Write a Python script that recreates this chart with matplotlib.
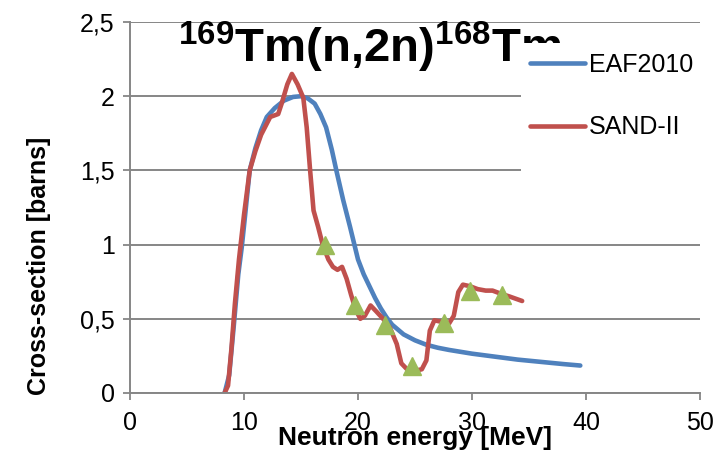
import matplotlib
matplotlib.use("Agg")
import matplotlib.pyplot as plt
from matplotlib.patches import Rectangle

plt.rcParams['font.family'] = ['Liberation Sans', 'DejaVu Sans']
plt.rcParams['mathtext.fontset'] = 'custom'
plt.rcParams['mathtext.rm'] = 'Liberation Sans'
plt.rcParams['mathtext.bf'] = 'Liberation Sans:bold'

# EAF2010 evaluated cross-section
eaf_e = [8.3, 8.7, 9.1, 9.5, 9.8, 10.1, 10.5, 11.0, 11.5, 12.0, 12.7, 13.5, 14.3,
         15.0, 15.6, 16.2, 16.7, 17.2, 17.7, 18.1, 18.7, 19.3, 20.0, 20.5, 21.0,
         21.5, 22.0, 22.5, 23.0, 24.0, 25.0, 26.0, 27.0, 28.0, 30.0, 32.0, 34.0,
         36.0, 38.0, 39.5]
eaf_xs = [0.0, 0.12, 0.45, 0.8, 0.98, 1.2, 1.5, 1.65, 1.77, 1.86, 1.92, 1.97, 1.995,
          2.0, 1.985, 1.95, 1.88, 1.79, 1.64, 1.5, 1.3, 1.12, 0.9, 0.8, 0.72,
          0.64, 0.57, 0.51, 0.46, 0.395, 0.355, 0.325, 0.305, 0.29, 0.265, 0.245, 0.225,
          0.21, 0.195, 0.185]

# SAND-II adjusted cross-section
sand_e = [8.3, 8.6, 8.9, 9.2, 9.56, 10.0, 10.5, 11.0, 11.5, 12.3, 13.0, 13.3, 13.8,
          14.2, 14.7, 15.2, 15.5, 15.8, 16.1, 16.5, 16.9, 17.4, 17.8, 18.2, 18.6,
          19.0, 19.4, 19.8, 20.2, 20.6, 21.1, 21.6, 22.2, 22.8, 23.4, 23.8, 24.3,
          25.0, 25.6, 26.0, 26.3, 26.7, 27.3, 28.0, 28.4, 28.8, 29.2, 29.8, 30.5,
          31.2, 31.8, 32.5, 33.3, 34.4]
sand_xs = [0.0, 0.05, 0.3, 0.6, 0.9, 1.2, 1.5, 1.63, 1.74, 1.86, 1.88, 1.95, 2.08,
           2.15, 2.08, 1.99, 1.79, 1.5, 1.23, 1.12, 1.0, 0.9, 0.85, 0.83, 0.85,
           0.77, 0.66, 0.56, 0.5, 0.52, 0.59, 0.55, 0.5, 0.44, 0.33, 0.2, 0.16,
           0.15, 0.16, 0.22, 0.42, 0.49, 0.48, 0.47, 0.52, 0.68, 0.73, 0.72, 0.7,
           0.69, 0.69, 0.67, 0.65, 0.62]

# data points (triangles)
pts_e = [17.1, 19.7, 22.4, 24.7, 27.5, 29.8, 32.6]
pts_xs = [1.0, 0.59, 0.46, 0.18, 0.47, 0.69, 0.66]

xticks = [0, 10, 20, 30, 40, 50]
yticks = [0, 0.5, 1, 1.5, 2, 2.5]
ytick_labels = ["0", "0,5", "1", "1,5", "2", "2,5"]

gray = '#868686'
fig = plt.figure(figsize=(7.16, 4.55), dpi=100)
ax = fig.add_axes([130 / 716, 1 - 393 / 455, 570 / 716, 371 / 455])

ax.plot(eaf_e, eaf_xs, color='#4F81BD', lw=3.3, label='EAF2010', zorder=2,
        solid_capstyle='round', solid_joinstyle='round')
ax.plot(sand_e, sand_xs, color='#C0504D', lw=3.3, label='SAND-II', zorder=2.5,
        solid_capstyle='round', solid_joinstyle='round')
ax.plot(pts_e, pts_xs, linestyle='none', marker='^', ms=13, color='#9BBB59',
        zorder=3)

ax.set_xlim(0, 50)
ax.set_ylim(0, 2.5)
ax.set_xticks(xticks)
ax.set_yticks(yticks)
ax.set_yticklabels(ytick_labels)
ax.tick_params(axis='both', labelsize=18, color=gray, width=1.3, length=5,
               direction='out')
ax.tick_params(axis='y', pad=6)
ax.tick_params(axis='x', pad=8)
ax.grid(axis='y', color=gray, lw=1.4)
ax.set_axisbelow(True)
for s in ['top', 'right']:
    ax.spines[s].set_visible(False)
for s in ['left', 'bottom']:
    ax.spines[s].set_color(gray)
    ax.spines[s].set_linewidth(1.4)

ax.set_xlabel('Neutron energy [MeV]', fontsize=19, fontweight='bold')
ax.xaxis.set_label_coords(0.5, -0.09)
ax.set_ylabel('Cross-section [barns]', fontsize=18, fontweight='bold', va='center')
ax.yaxis.set_label_coords(-0.159, 0.342)

ax.text(0.42, 0.89, r'$^{\mathbf{169}}\mathbf{Tm(n{,}2n)}^{\mathbf{168}}\mathbf{Tm}$',
        transform=ax.transAxes, fontsize=34, ha='center', va='baseline', zorder=4)

# white legend area
ax.add_patch(Rectangle((0.686, 0.585), 0.35, 0.358, transform=ax.transAxes,
                       facecolor='white', edgecolor='none', zorder=5, clip_on=False))
leg = ax.legend(loc='center left', bbox_to_anchor=(0.702, 0.8005), frameon=False,
                fontsize=18, handlelength=2.2, handletextpad=0.15, labelspacing=1.55,
                borderpad=0, borderaxespad=0)
leg.set_zorder(6)

fig.savefig('out.png', dpi=100)
